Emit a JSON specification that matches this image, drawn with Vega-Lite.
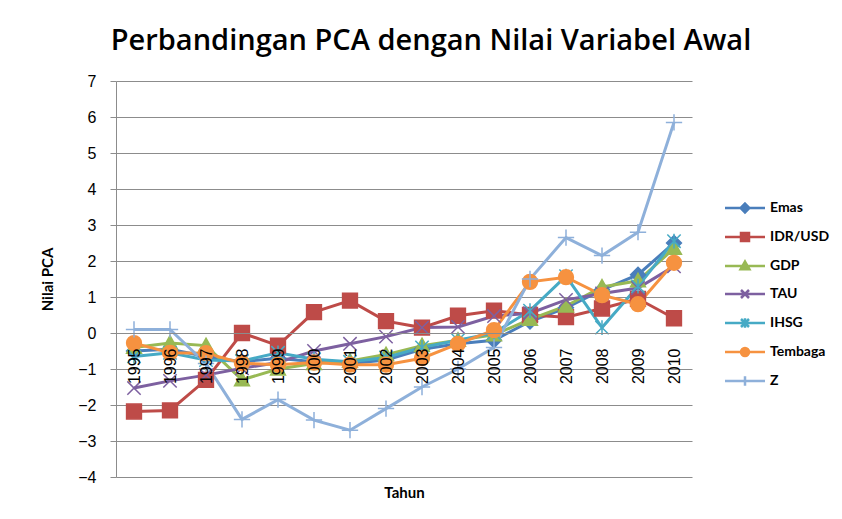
{
  "$schema": "https://vega.github.io/schema/vega-lite/v6.json",
  "autosize": {"type": "none"},
  "padding": {"left": 116, "top": 81, "right": 150, "bottom": 42},
  "width": 576,
  "height": 396,
  "background": "white",
  "title": {
    "text": "Perbandingan PCA dengan Nilai Variabel Awal",
    "font": "Open Sans",
    "fontSize": 29,
    "fontWeight": 600,
    "color": "black",
    "anchor": "middle",
    "dx": 27,
    "offset": 17
  },
  "config": {
    "view": {"stroke": null},
    "axis": {
      "labelFont": "Liberation Sans",
      "labelFontSize": 16,
      "labelColor": "black",
      "titleFont": "Lato",
      "titleFontSize": 15,
      "titleFontWeight": "bold",
      "titleColor": "black",
      "gridColor": "#8c8c8c",
      "domainColor": "#8c8c8c",
      "tickColor": "#8c8c8c"
    },
    "legend": {
      "labelFont": "Lato",
      "labelFontSize": 14,
      "labelFontWeight": "bold",
      "labelColor": "black"
    }
  },
  "data": {
    "values": [
      {"year": "1995", "series": "Emas", "value": -0.5},
      {"year": "1996", "series": "Emas", "value": -0.45},
      {"year": "1997", "series": "Emas", "value": -0.65},
      {"year": "1998", "series": "Emas", "value": -0.8},
      {"year": "1999", "series": "Emas", "value": -0.7},
      {"year": "2000", "series": "Emas", "value": -0.8},
      {"year": "2001", "series": "Emas", "value": -0.85},
      {"year": "2002", "series": "Emas", "value": -0.75},
      {"year": "2003", "series": "Emas", "value": -0.45},
      {"year": "2004", "series": "Emas", "value": -0.3},
      {"year": "2005", "series": "Emas", "value": -0.2},
      {"year": "2006", "series": "Emas", "value": 0.32},
      {"year": "2007", "series": "Emas", "value": 0.7},
      {"year": "2008", "series": "Emas", "value": 1.2},
      {"year": "2009", "series": "Emas", "value": 1.62},
      {"year": "2010", "series": "Emas", "value": 2.5},
      {"year": "1995", "series": "IDR/USD", "value": -2.18},
      {"year": "1996", "series": "IDR/USD", "value": -2.15},
      {"year": "1997", "series": "IDR/USD", "value": -1.3},
      {"year": "1998", "series": "IDR/USD", "value": 0.0},
      {"year": "1999", "series": "IDR/USD", "value": -0.35},
      {"year": "2000", "series": "IDR/USD", "value": 0.58},
      {"year": "2001", "series": "IDR/USD", "value": 0.9},
      {"year": "2002", "series": "IDR/USD", "value": 0.33},
      {"year": "2003", "series": "IDR/USD", "value": 0.15},
      {"year": "2004", "series": "IDR/USD", "value": 0.48},
      {"year": "2005", "series": "IDR/USD", "value": 0.62},
      {"year": "2006", "series": "IDR/USD", "value": 0.5},
      {"year": "2007", "series": "IDR/USD", "value": 0.44},
      {"year": "2008", "series": "IDR/USD", "value": 0.68},
      {"year": "2009", "series": "IDR/USD", "value": 0.95},
      {"year": "2010", "series": "IDR/USD", "value": 0.41},
      {"year": "1995", "series": "GDP", "value": -0.4},
      {"year": "1996", "series": "GDP", "value": -0.28},
      {"year": "1997", "series": "GDP", "value": -0.35},
      {"year": "1998", "series": "GDP", "value": -1.3},
      {"year": "1999", "series": "GDP", "value": -1.0},
      {"year": "2000", "series": "GDP", "value": -0.85},
      {"year": "2001", "series": "GDP", "value": -0.78},
      {"year": "2002", "series": "GDP", "value": -0.6},
      {"year": "2003", "series": "GDP", "value": -0.35},
      {"year": "2004", "series": "GDP", "value": -0.2},
      {"year": "2005", "series": "GDP", "value": -0.05},
      {"year": "2006", "series": "GDP", "value": 0.38},
      {"year": "2007", "series": "GDP", "value": 0.75},
      {"year": "2008", "series": "GDP", "value": 1.28},
      {"year": "2009", "series": "GDP", "value": 1.45},
      {"year": "2010", "series": "GDP", "value": 2.35},
      {"year": "1995", "series": "TAU", "value": -1.53},
      {"year": "1996", "series": "TAU", "value": -1.33},
      {"year": "1997", "series": "TAU", "value": -1.17},
      {"year": "1998", "series": "TAU", "value": -0.98},
      {"year": "1999", "series": "TAU", "value": -0.82},
      {"year": "2000", "series": "TAU", "value": -0.5},
      {"year": "2001", "series": "TAU", "value": -0.3},
      {"year": "2002", "series": "TAU", "value": -0.1},
      {"year": "2003", "series": "TAU", "value": 0.15},
      {"year": "2004", "series": "TAU", "value": 0.17},
      {"year": "2005", "series": "TAU", "value": 0.47},
      {"year": "2006", "series": "TAU", "value": 0.55},
      {"year": "2007", "series": "TAU", "value": 0.92},
      {"year": "2008", "series": "TAU", "value": 1.1},
      {"year": "2009", "series": "TAU", "value": 1.25},
      {"year": "2010", "series": "TAU", "value": 1.85},
      {"year": "1995", "series": "IHSG", "value": -0.65},
      {"year": "1996", "series": "IHSG", "value": -0.55},
      {"year": "1997", "series": "IHSG", "value": -0.75},
      {"year": "1998", "series": "IHSG", "value": -0.78},
      {"year": "1999", "series": "IHSG", "value": -0.55},
      {"year": "2000", "series": "IHSG", "value": -0.73},
      {"year": "2001", "series": "IHSG", "value": -0.8},
      {"year": "2002", "series": "IHSG", "value": -0.68},
      {"year": "2003", "series": "IHSG", "value": -0.4},
      {"year": "2004", "series": "IHSG", "value": -0.2},
      {"year": "2005", "series": "IHSG", "value": 0.0},
      {"year": "2006", "series": "IHSG", "value": 0.62},
      {"year": "2007", "series": "IHSG", "value": 1.58},
      {"year": "2008", "series": "IHSG", "value": 0.15},
      {"year": "2009", "series": "IHSG", "value": 1.3},
      {"year": "2010", "series": "IHSG", "value": 2.55},
      {"year": "1995", "series": "Tembaga", "value": -0.28},
      {"year": "1996", "series": "Tembaga", "value": -0.55},
      {"year": "1997", "series": "Tembaga", "value": -0.56},
      {"year": "1998", "series": "Tembaga", "value": -0.84},
      {"year": "1999", "series": "Tembaga", "value": -0.88},
      {"year": "2000", "series": "Tembaga", "value": -0.82},
      {"year": "2001", "series": "Tembaga", "value": -0.88},
      {"year": "2002", "series": "Tembaga", "value": -0.88},
      {"year": "2003", "series": "Tembaga", "value": -0.7},
      {"year": "2004", "series": "Tembaga", "value": -0.3},
      {"year": "2005", "series": "Tembaga", "value": 0.08},
      {"year": "2006", "series": "Tembaga", "value": 1.42},
      {"year": "2007", "series": "Tembaga", "value": 1.55},
      {"year": "2008", "series": "Tembaga", "value": 1.05},
      {"year": "2009", "series": "Tembaga", "value": 0.8},
      {"year": "2010", "series": "Tembaga", "value": 1.95},
      {"year": "1995", "series": "Z", "value": 0.1},
      {"year": "1996", "series": "Z", "value": 0.1},
      {"year": "1997", "series": "Z", "value": -0.85},
      {"year": "1998", "series": "Z", "value": -2.4},
      {"year": "1999", "series": "Z", "value": -1.85},
      {"year": "2000", "series": "Z", "value": -2.42},
      {"year": "2001", "series": "Z", "value": -2.7},
      {"year": "2002", "series": "Z", "value": -2.1},
      {"year": "2003", "series": "Z", "value": -1.5},
      {"year": "2004", "series": "Z", "value": -1.0},
      {"year": "2005", "series": "Z", "value": -0.4},
      {"year": "2006", "series": "Z", "value": 1.5},
      {"year": "2007", "series": "Z", "value": 2.65},
      {"year": "2008", "series": "Z", "value": 2.15},
      {"year": "2009", "series": "Z", "value": 2.8},
      {"year": "2010", "series": "Z", "value": 5.85}
    ]
  },
  "encoding": {
    "x": {
      "field": "year",
      "type": "ordinal",
      "scale": {"type": "point", "padding": 0.5},
      "axis": {
        "title": "Tahun",
        "labelAngle": -90,
        "offset": -144,
        "ticks": false,
        "labelPadding": 15,
        "domain": true,
        "zindex": 1,
        "titleY": 159,
        "titleBaseline": "middle"
      }
    },
    "y": {
      "field": "value",
      "type": "quantitative",
      "scale": {"domain": [-4, 7], "nice": false, "zero": false},
      "axis": {
        "title": "Nilai PCA",
        "values": [-4, -3, -2, -1, 0, 1, 2, 3, 4, 5, 6, 7],
        "tickSize": 6,
        "labelPadding": 14,
        "titlePadding": 22,
        "grid": true
      }
    },
    "color": {
      "field": "series",
      "type": "nominal",
      "sort": ["Emas", "IDR/USD", "GDP", "TAU", "IHSG", "Tembaga", "Z"],
      "scale": {
        "domain": ["Emas", "IDR/USD", "GDP", "TAU", "IHSG", "Tembaga", "Z"],
        "range": ["#4A7EBB", "#BE4B48", "#98B954", "#7D60A0", "#46AAC5", "#F69240", "#8EB0DA"]
      },
      "legend": {
        "title": null,
        "orient": "none",
        "legendX": 622,
        "legendY": 120,
        "symbolSize": 64,
        "symbolStrokeWidth": 2.5,
        "labelOffset": 18,
        "rowPadding": 10,
        "encode": {
          "symbols": {
            "update": {
              "shape": {"signal": "datum.value==='Emas'?'M-5,0H5M0,-1.1L1.1,0L0,1.1L-1.1,0Z':datum.value==='IDR/USD'?'M-5,0H5M-1,-1H1V1H-1Z':datum.value==='GDP'?'M-5,0H5M0,-1.1L1.1,0.8L-1.1,0.8Z':datum.value==='TAU'?'M-5,0H5M-1,-1L1,1M-1,1L1,-1':datum.value==='IHSG'?'M-5,0H5M-1,-1L1,1M-1,1L1,-1M0,-1.2V1.2':datum.value==='Tembaga'?'M-5,0H5M1,0A1,1,0,1,1,-1,0A1,1,0,1,1,1,0Z':'M-5,0H5M0,-1.2V1.2'"},
              "fill": {"scale": "color", "field": "value"},
              "stroke": {"scale": "color", "field": "value"},
              "strokeWidth": {"value": 2.5},
              "opacity": {"value": 1}
            }
          }
        }
      }
    }
  },
  "layer": [
    {
      "mark": {"type": "line", "strokeWidth": 3}
    },
    {
      "mark": {"type": "point", "filled": true, "opacity": 1, "size": 220, "strokeWidth": 1.5},
      "encoding": {
        "shape": {
          "condition": [
            {"test": "datum.series === 'Emas'", "value": "M0,-1L1,0L0,1L-1,0Z"},
            {"test": "datum.series === 'IDR/USD'", "value": "M-1,-1H1V1H-1Z"},
            {"test": "datum.series === 'GDP'", "value": "M0,-1L1,0.8L-1,0.8Z"},
            {"test": "datum.series === 'TAU'", "value": "M-0.9,-0.9L0.9,0.9M-0.9,0.9L0.9,-0.9"},
            {"test": "datum.series === 'IHSG'", "value": "M-0.9,-0.9L0.9,0.9M-0.9,0.9L0.9,-0.9M0,-1V1"},
            {"test": "datum.series === 'Tembaga'", "value": "M1,0A1,1,0,1,1,-1,0A1,1,0,1,1,1,0Z"}
          ],
          "value": "M-1.1,0H1.1M0,-1.1V1.1"
        },
        "stroke": {"field": "series", "type": "nominal", "scale": {"domain": ["Emas", "IDR/USD", "GDP", "TAU", "IHSG", "Tembaga", "Z"], "range": ["#4A7EBB", "#BE4B48", "#98B954", "#7D60A0", "#46AAC5", "#F69240", "#8EB0DA"]}, "legend": null}
      }
    }
  ]
}
